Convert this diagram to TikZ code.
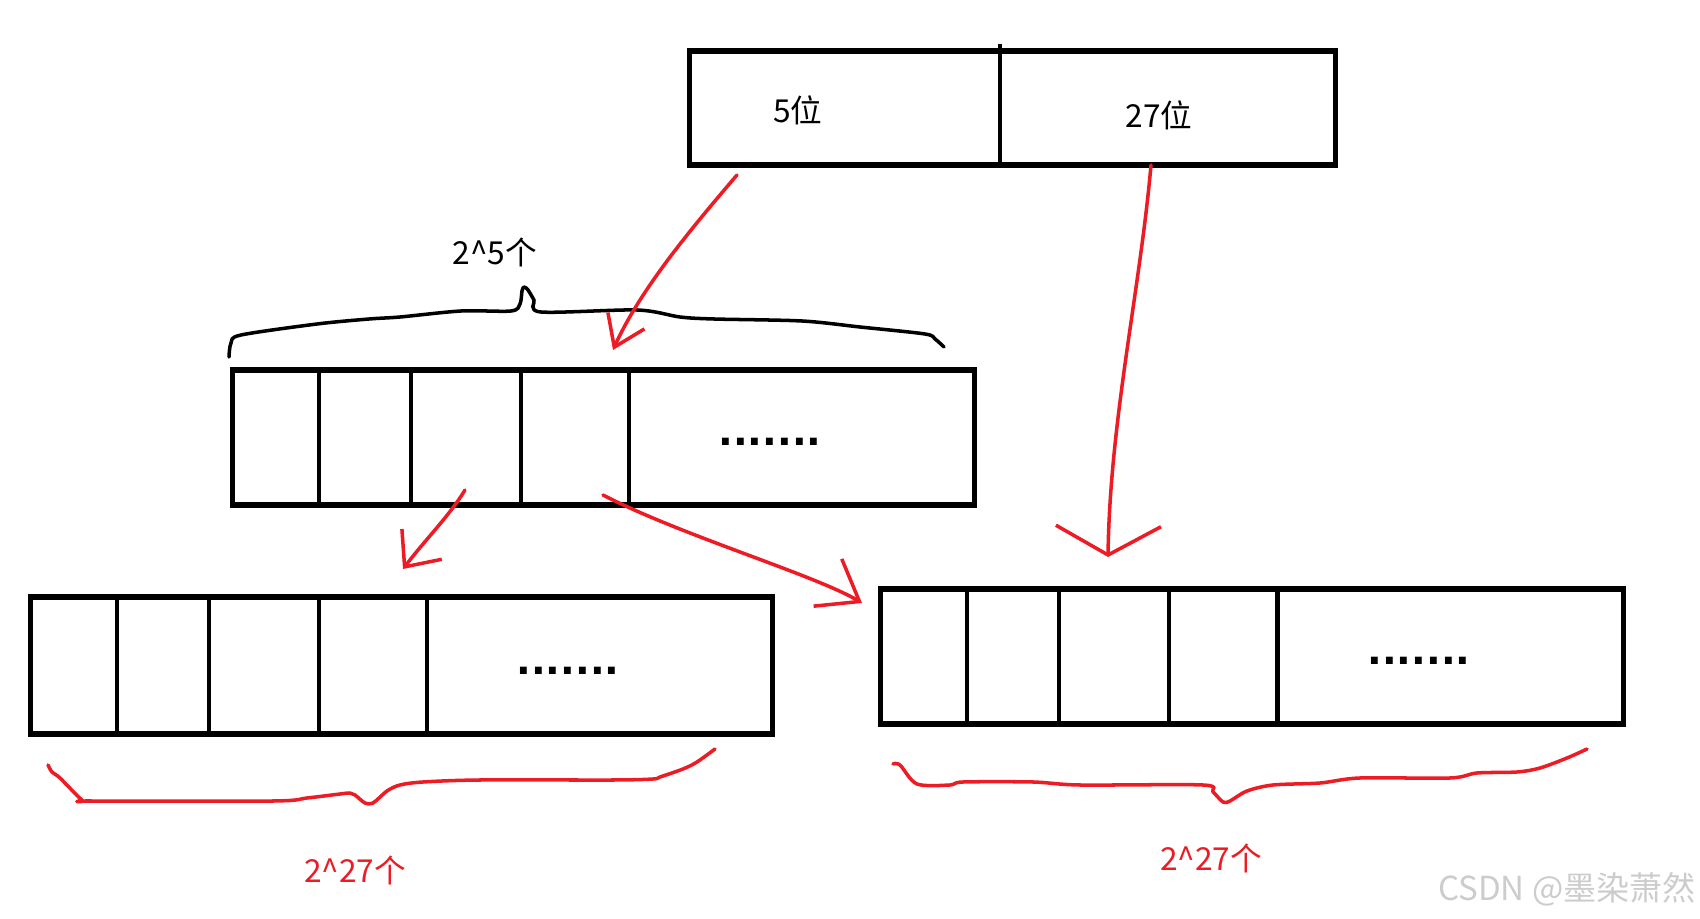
\documentclass[tikz,border=0pt]{standalone}
\usepackage{fontspec}
\setmainfont{Noto Sans CJK SC}
\newfontfamily\dotfont{DejaVu Sans}
\usetikzlibrary{arrows.meta}
\definecolor{paintred}{RGB}{237,28,36}
\tikzset{
  cellrow/.style={draw, line width=1.5pt, inner sep=0pt},
  split/.style={line width=1.2pt},
  pen/.style={line width=1pt, line cap=round, line join=round},
  redpen/.style={pen, draw=paintred},
  lbl/.style={inner sep=0pt, font=\fontsize{9pt}{11pt}\selectfont},
}
\newcommand{\rowbox}[4] {\node at (#1) (#2) [cellrow, minimum width=#3, minimum height=#4] {};}
\newcommand{\rowdots}[2] {\node at (#1) (#2) [inner sep=0pt, font=\dotfont\bfseries\fontsize{11pt}{13pt}\selectfont] {.......};}

\begin{document}
\begin{tikzpicture}[x=0.01cm, y=-0.01cm]
\useasboundingbox (0,0) rectangle (1700,919);

\rowbox {1012.5,108} {addr} {6.45cm} {1.14cm}
\draw [split] ([xshift=3.13cm, yshift=0.04cm]addr.north west) -- ([xshift=3.13cm]addr.south west);
\node [lbl] at (798,110) (hi) {5位};
\node [lbl] at (1159,115) (lo) {27位};

\rowbox {603.5,437.5} {dir} {7.41cm} {1.35cm}
\rowbox {401.5,665.5} {pgl} {7.41cm} {1.37cm}
\rowbox {1252,656.5} {pgr} {7.42cm} {1.35cm}
\foreach \t in {dir,pgl,pgr}
  \foreach \dx in {0.89,1.81,2.91,3.99}
    \draw [split] ([xshift=\dx cm]\t.north west) -- ([xshift=\dx cm]\t.south west);
\rowdots {770,442} {dir-dots}
\rowdots {568,671} {pgl-dots}
\rowdots {1419,661} {pgr-dots}

\draw [pen] plot[smooth, tension=0.5] coordinates {(229,357) (231,343) (241,335) (317,324) (369,319) (400,317) (461,311) (511,311) (520,304) (522,291) (524,287) (528,290) (534,300) (541,312) (637,310) (680,317) (714,319) (802,321) (860,327) (925,334) (935,339) (944,347)};
\node [lbl] at (495,252) (dir-cnt) {2\textasciicircum 5个};

\coordinate (hi-out) at (737,175);
\coordinate (dir-in) at (613,350);
\coordinate (lo-out) at (1151,165);
\coordinate (pgr-in) at (1108,557);
\coordinate (dir-out) at (465,490);
\coordinate (pgl-in) at (403,569);
\coordinate (dir-out2) at (603,495);
\coordinate (pgr-in2) at (862,603);

\draw [redpen, -{Straight Barb[length=2.9mm,width=4mm]}] (hi-out) .. controls (690,230) and (640,290) .. (dir-in);
\draw [redpen, -{Straight Barb[length=2.9mm,width=10.5mm]}] (lo-out) .. controls (1140,290) and (1110,420) .. (pgr-in);
\draw [redpen, -{Straight Barb[length=2.85mm,width=5mm]}] (dir-out) .. controls (450,515) and (425,540) .. (pgl-in);
\draw [redpen, -{Straight Barb[length=3.7mm,width=5.5mm]}] (dir-out2) .. controls (680,535) and (815,575) .. (pgr-in2);

\draw [redpen] plot[smooth, tension=0.5] coordinates {(48,765) (52,772) (60,778) (82,800) (90,801) (273,801) (307,798) (340,794) (350,793) (355,795) (365,803) (373,803) (387,791) (400,785) (423,782) (480,780) (613,780) (653,779) (660,777) (683,769) (697,762) (715,749)};
\draw [redpen] plot[smooth, tension=0.5] coordinates {(893,764) (900,765) (917,784) (950,785) (963,782) (1033,782) (1080,785) (1203,785) (1213,792) (1223,802) (1230,801) (1247,791) (1273,785) (1320,783) (1360,778) (1450,778) (1477,773) (1517,772) (1540,768) (1567,758) (1587,749)};
\node [lbl, text=paintred] at (355,870) (pgl-cnt) {2\textasciicircum 27个};
\node [lbl, text=paintred] at (1211,858) (pgr-cnt) {2\textasciicircum 27个};

\node [lbl, text=gray!40] at (1567,889) (wmark) {\fontsize{9.4pt}{11pt}\selectfont CSDN @墨染萧然};
\end{tikzpicture}
\end{document}
